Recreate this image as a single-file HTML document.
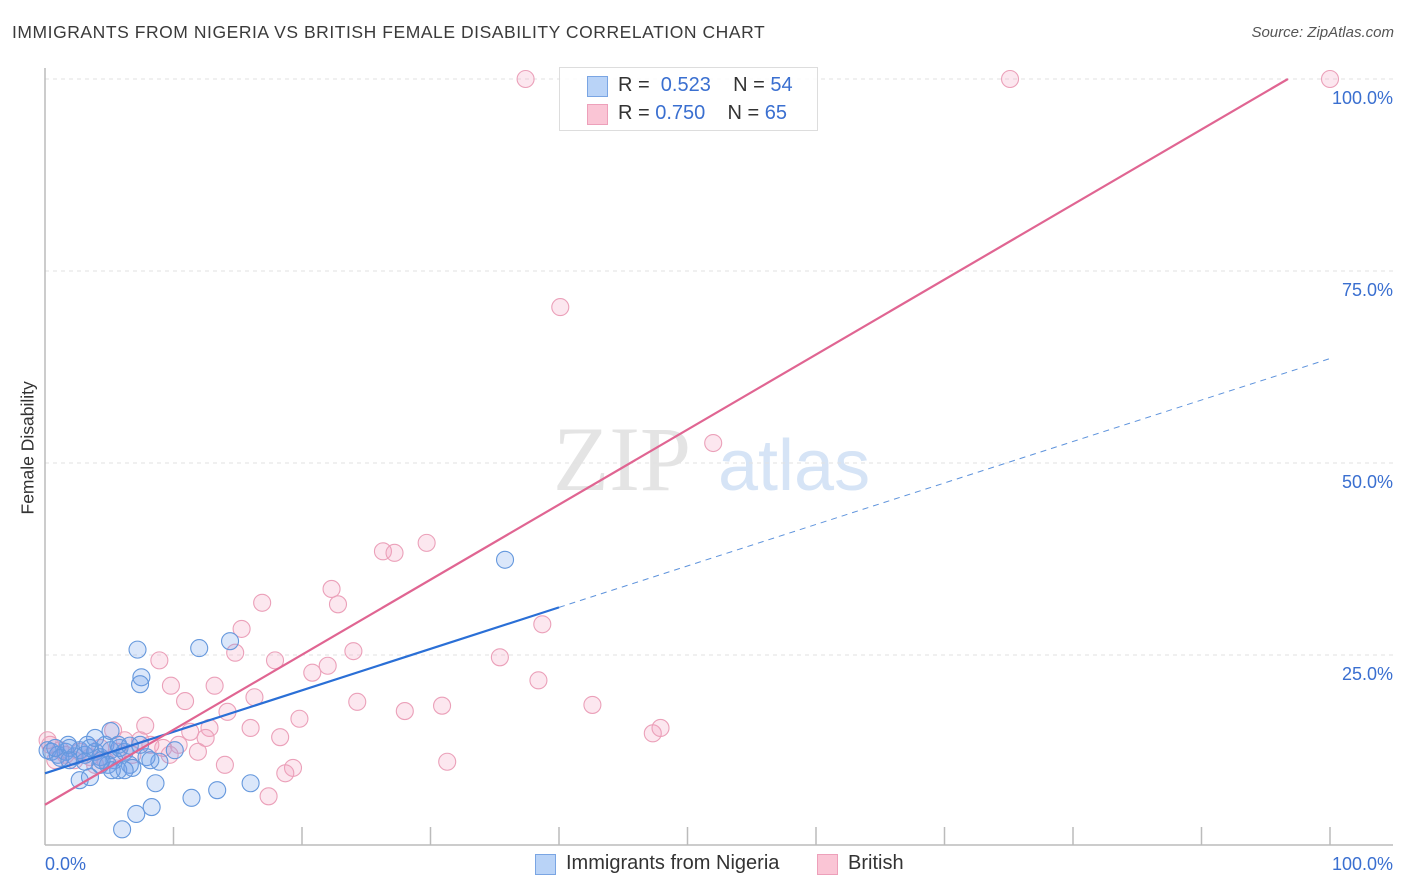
<!DOCTYPE html>
<html><head><meta charset="utf-8"><style>
body{margin:0;background:#fff;font-family:"Liberation Sans",sans-serif}
#wrap{position:relative;width:1406px;height:892px;overflow:hidden}
.t{position:absolute;white-space:nowrap}
</style></head><body>
<div id="wrap">
<div class="t" style="left:12px;top:22px;font-size:17.5px;letter-spacing:0.55px;color:#3a3a3a">IMMIGRANTS FROM NIGERIA VS BRITISH FEMALE DISABILITY CORRELATION CHART</div>
<div class="t" style="right:12px;top:24px;font-size:15px;color:#555;font-style:italic">Source: ZipAtlas.com</div>
<div class="t" style="left:-32px;top:444px;font-size:17.5px;color:#333;transform:rotate(-90deg);width:120px;text-align:center">Female Disability</div>
<svg id="plot" width="1406" height="892" style="position:absolute;left:0;top:0"></svg>
<div style="position:absolute;left:559px;top:67px;width:257px;height:62px;border:1px solid #ddd;background:rgba(255,255,255,0.85)">
 <div style="position:absolute;left:27px;top:8px;width:19px;height:19px;background:#b9d3f7;border:1px solid #7aa5e3"></div>
 <div class="t" style="left:58px;top:6px;font-size:20px;color:#333">R = <span style="color:#3a6fd0">&nbsp;0.523</span>&nbsp;&nbsp;&nbsp;&nbsp;N = <span style="color:#3a6fd0">54</span></div>
 <div style="position:absolute;left:27px;top:36px;width:19px;height:19px;background:#fac5d5;border:1px solid #eda0ba"></div>
 <div class="t" style="left:58px;top:34px;font-size:20px;color:#333">R = <span style="color:#3a6fd0">0.750</span>&nbsp;&nbsp;&nbsp;&nbsp;N = <span style="color:#3a6fd0">65</span></div>
</div>
<div style="position:absolute;left:535px;top:854px;width:19px;height:19px;background:#b9d3f7;border:1px solid #7aa5e3"></div>
<div class="t" style="left:566px;top:852px;font-size:20px;color:#333">Immigrants from Nigeria</div>
<div style="position:absolute;left:817px;top:854px;width:19px;height:19px;background:#fac5d5;border:1px solid #eda0ba"></div>
<div class="t" style="left:848px;top:852px;font-size:20px;color:#333">British</div>
</div>
<script>
const blueX=[0.2,0.5,1.0,1.6,1.9,2.3,2.7,3.1,3.5,3.9,4.3,4.7,5.1,5.4,5.8,6.2,6.6,4.9,5.7,2.7,3.5,7.2,7.5,7.4,12.0,14.4,35.8,5.1,6.8,8.9,8.6,7.9,8.3,7.1,6.0,11.4,13.4,16.0,10.1,4.3,1.2,1.9,6.2,5.2,3.3,7.4,8.2,3.9,5.7,1.8,0.8,6.6,4.4,3.1];
const blueY=[12.6,12.4,12.0,12.4,12.9,11.8,12.6,12.0,12.9,12.4,11.7,13.3,12.6,11.3,12.9,12.4,10.7,10.7,10.0,8.7,9.1,25.7,22.1,21.2,25.9,26.8,37.4,15.1,10.3,11.1,8.3,11.7,5.2,4.3,2.3,6.4,7.4,8.3,12.6,10.7,11.6,11.3,10.0,10.0,13.3,13.3,11.3,14.2,13.3,13.3,12.9,13.2,11.3,11.1];
const pinkX=[37.4,75.1,100,40.1,52.0,26.3,27.2,29.7,22.3,22.8,16.9,15.3,14.8,8.9,17.9,22.0,20.8,9.8,13.2,10.9,16.3,24.3,28.0,30.9,42.6,35.4,24.0,38.7,38.4,19.8,14.2,16.0,12.8,7.8,5.3,11.3,18.3,12.5,7.4,10.4,9.2,11.9,14.0,19.3,18.7,17.4,31.3,47.3,47.9,6.2,5.7,3.5,2.3,1.2,0.4,0.2,1.6,4.7,6.8,8.2,4.3,2.7,9.7,0.8,3.9];
const pinkY=[100,100,100,70.3,52.6,38.5,38.3,39.6,33.6,31.6,31.8,28.4,25.3,24.3,24.3,23.6,22.7,21.0,21.0,19.0,19.5,18.9,17.7,18.4,18.5,24.7,25.5,29.0,21.7,16.7,17.6,15.5,15.5,15.8,15.2,15.0,14.3,14.2,13.9,13.3,12.9,12.4,10.7,10.3,9.6,6.6,11.1,14.8,15.5,13.9,12.4,11.7,11.3,12.6,13.3,13.9,12.0,11.3,12.0,13.3,12.9,12.4,12.0,11.3,10.7];
const blueTrend=[9.6,63.6];
const blueSolidEnd=40;
const pinkTrend=[5.5,103.2];
const yTicks=[25,50,75,100];
const yTickLabels=["25.0%","50.0%","75.0%","100.0%"];
const xTicks=[10,20,30,40,50,60,70,80,90,100];

const NS="http://www.w3.org/2000/svg";
const svg=document.getElementById('plot');
const X=v=>45+v*12.85, Y=v=>847-v*7.68;
function mk(tag,at,parent){const e=document.createElementNS(NS,tag);for(const k in at)e.setAttribute(k,at[k]);(parent||svg).appendChild(e);return e;}
let w=mk('text',{x:553,y:490,'font-size':92,'font-family':'Liberation Serif, serif',fill:'#e4e4e4'});w.textContent='ZIP';


let w2=mk('text',{x:718,y:490,'font-size':72,'font-family':'Liberation Sans, sans-serif',fill:'#d6e4f6'});w2.textContent='atlas';


yTicks.forEach((t,i)=>{
 const g=mk('line',{x1:45,x2:1393,y1:Y(t),y2:Y(t),stroke:'#e2e2e2','stroke-dasharray':'4,4'});
 
 
 const l=mk('text',{x:1393,y:Y(t)+25,'text-anchor':'end','font-size':18,fill:'#3a6fd0','font-family':'Liberation Sans, sans-serif'});
 l.textContent=yTickLabels[i];
 
 
});
let ax=mk('line',{x1:45,x2:45,y1:68,y2:845,stroke:'#bbb','stroke-width':1.5});


let bx=mk('line',{x1:45,x2:1393,y1:845,y2:845,stroke:'#bbb','stroke-width':1.5});


xTicks.forEach(t=>{const k=mk('line',{x1:X(t),x2:X(t),y1:827,y2:845,stroke:'#bbb','stroke-width':1.5});
 
 });
[['0.0%',45,'start'],['100.0%',1393,'end']].forEach(a=>{const l=mk('text',{x:a[1],y:870,'text-anchor':a[2],'font-size':18,fill:'#3a6fd0','font-family':'Liberation Sans, sans-serif'});l.textContent=a[0];
 
 });
function pts(xs,ys,fill,stroke,name){xs.forEach((x,i)=>{const c=mk('circle',{cx:X(x),cy:Y(ys[i]),r:8.5,fill:fill,stroke:stroke,'stroke-width':1.1});
 
 });}
pts(pinkX,pinkY,'rgba(245,160,190,0.25)','#eba0b9','british-point');
pts(blueX,blueY,'rgba(110,160,235,0.25)','#6598dd','nigeria-point');
const by=x=>blueTrend[0]+(blueTrend[1]-blueTrend[0])*x/100;
let l1=mk('line',{x1:X(0),y1:Y(by(0)),x2:X(blueSolidEnd),y2:Y(by(blueSolidEnd)),stroke:'#2a6fd6','stroke-width':2.2});


let l2=mk('line',{x1:X(blueSolidEnd),y1:Y(by(blueSolidEnd)),x2:X(100),y2:Y(by(100)),stroke:'#5e93dc','stroke-width':1,'stroke-dasharray':'6,5'});


const px=(100-pinkTrend[0])/(pinkTrend[1]-pinkTrend[0])*100;
let l3=mk('line',{x1:X(0),y1:Y(pinkTrend[0]),x2:X(px),y2:Y(100),stroke:'#e06592','stroke-width':2.2});


</script>
</body></html>
